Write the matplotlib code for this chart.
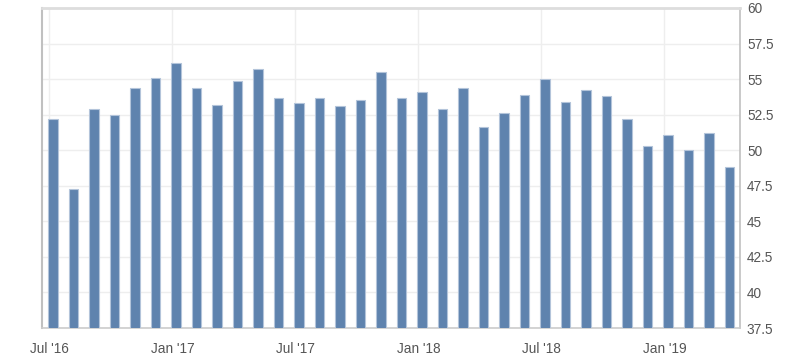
import matplotlib
matplotlib.use('Agg')
import matplotlib.pyplot as plt

# monthly values, Jul 2016 .. Apr 2019
months = ['Jul 16', 'Aug 16', 'Sep 16', 'Oct 16', 'Nov 16', 'Dec 16',
          'Jan 17', 'Feb 17', 'Mar 17', 'Apr 17', 'May 17', 'Jun 17',
          'Jul 17', 'Aug 17', 'Sep 17', 'Oct 17', 'Nov 17', 'Dec 17',
          'Jan 18', 'Feb 18', 'Mar 18', 'Apr 18', 'May 18', 'Jun 18',
          'Jul 18', 'Aug 18', 'Sep 18', 'Oct 18', 'Nov 18', 'Dec 18',
          'Jan 19', 'Feb 19', 'Mar 19', 'Apr 19']
values = [52.2, 47.3, 52.9, 52.5, 54.4, 55.1,
          56.1, 54.4, 53.2, 54.9, 55.7, 53.7,
          53.3, 53.7, 53.1, 53.5, 55.5, 53.7,
          54.1, 52.9, 54.4, 51.6, 52.6, 53.9,
          55.0, 53.4, 54.2, 53.8, 52.2, 50.3,
          51.1, 50.0, 51.2, 48.8]
tick_labels = ["Jul '16", "Jan '17", "Jul '17", "Jan '18", "Jul '18", "Jan '19"]
y_ticks = [37.5, 40, 42.5, 45, 47.5, 50, 52.5, 55, 57.5, 60]

plt.rcParams['font.family'] = ['Liberation Sans', 'DejaVu Sans']

fig = plt.figure(figsize=(8, 3.57), dpi=100)
ax = fig.add_axes([0.0525, 0.0812, 0.8725, 0.8964])

x = [i + 0.18 for i in range(len(values))]
ax.bar(x, values, width=0.47, bottom=0, color='#5f83ae',
       edgecolor='#b3c4da', linewidth=0.8, zorder=3)

ax.set_ylim(37.5, 60)
ax.set_xlim(-0.36, 33.69)
ax.set_yticks(y_ticks)
ax.set_yticklabels([f'{t:g}' for t in y_ticks])
ax.set_xticks(range(0, len(values), 6))
ax.set_xticklabels(tick_labels)

ax.yaxis.tick_right()
ax.tick_params(axis='both', length=0, labelsize=9.8, colors='#555555')
ax.tick_params(axis='y', pad=5)
ax.tick_params(axis='x', pad=10)

ax.grid(True, color='#eeeeee', linewidth=1, zorder=0)
ax.set_axisbelow(True)

ax.spines['top'].set_color('#dddddd')
ax.spines['top'].set_linewidth(2)
ax.spines['left'].set_color('#c0c0c0')
ax.spines['left'].set_linewidth(1.5)
ax.spines['right'].set_color('#c0c0c0')
ax.spines['right'].set_linewidth(1.2)
ax.spines['bottom'].set_color('#cccccc')
ax.spines['bottom'].set_linewidth(1.2)

fig.savefig('out.png', dpi=100)
